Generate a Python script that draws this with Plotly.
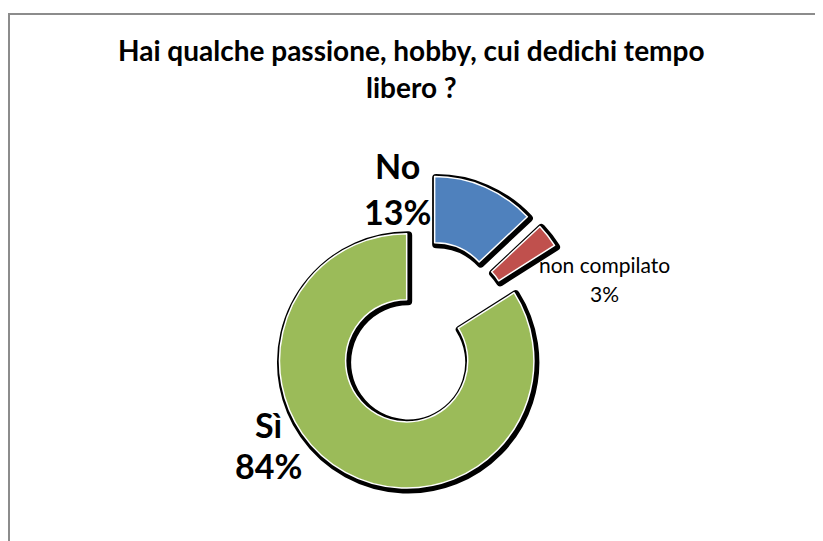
import plotly.graph_objects as go

# data
labels = ["No", "non compilato", "Sì"]
values = [13, 3, 84]
colors = ["#4f81bd", "#c0504d", "#9bbb59"]
pulls = [0.25, 0.25, 0.25]

title_lines = ["Hai qualche passione, hobby, cui dedichi tempo", "libero ?"]

# the page body has an 8px margin, so the figure is a bit smaller than the window
OFF = 8
W, H = 823 - OFF, 541 - OFF


def px(x):
    return (x - OFF) / W


def py(y):
    return 1 - (y - OFF) / H


# donut centre and outer size in window pixels
cx, cy, half = 422, 333, 159
dom_x = [px(cx - half), px(cx + half)]
dom_y = [py(cy + half), py(cy - half)]

# black outline / shadow behind the slices
shadow = go.Pie(
    labels=labels, values=values, sort=False, direction="clockwise", rotation=0,
    hole=0.48, pull=pulls, textinfo="none", hoverinfo="skip", showlegend=False,
    marker=dict(colors=["#000000"] * 3, line=dict(color="#000000", width=8)),
    domain=dict(x=[dom_x[0] + 1.5 / W, dom_x[1] + 1.5 / W],
                y=[dom_y[0] - 1.5 / H, dom_y[1] - 1.5 / H]),
)

donut = go.Pie(
    labels=labels, values=values, sort=False, direction="clockwise", rotation=0,
    hole=0.48, pull=pulls, textinfo="none", hoverinfo="label+percent", showlegend=False,
    marker=dict(colors=colors, line=dict(color="#ffffff", width=1.5)),
    domain=dict(x=dom_x, y=dom_y),
)

fig = go.Figure(data=[shadow, donut])

big = dict(family="Lato", size=34, color="#000000")
small = dict(family="Lato", size=21, color="#000000")
label_pos = [(397, 166, 211, big, True), (604, 264, 293, small, False), (268, 424, 465, big, True)]

annotations = []
for lab, val, (x, y1, y2, f, bold) in zip(labels, values, label_pos):
    for txt, yy in ((lab, y1), (f"{val}%", y2)):
        t = f"<b>{txt}</b>" if bold else txt
        annotations.append(dict(x=px(x), y=py(yy), xref="paper", yref="paper", text=t,
                                showarrow=False, font=f, xanchor="center", yanchor="middle"))

for txt, yy in zip(title_lines, [50, 87]):
    annotations.append(dict(x=px(411), y=py(yy), xref="paper", yref="paper", text=f"<b>{txt}</b>",
                            showarrow=False, font=dict(family="Lato", size=28, color="#000000"),
                            xanchor="center", yanchor="middle"))

fig.update_layout(
    width=W, height=H,
    margin=dict(l=0, r=0, t=0, b=0),
    paper_bgcolor="#ffffff", plot_bgcolor="#ffffff",
    annotations=annotations,
    shapes=[dict(type="rect", xref="paper", yref="paper", x0=px(9), y0=-0.05, x1=1.05, y1=py(14),
                 line=dict(color="#8c8c8c", width=2))],
)

fig.write_html("out.html")
